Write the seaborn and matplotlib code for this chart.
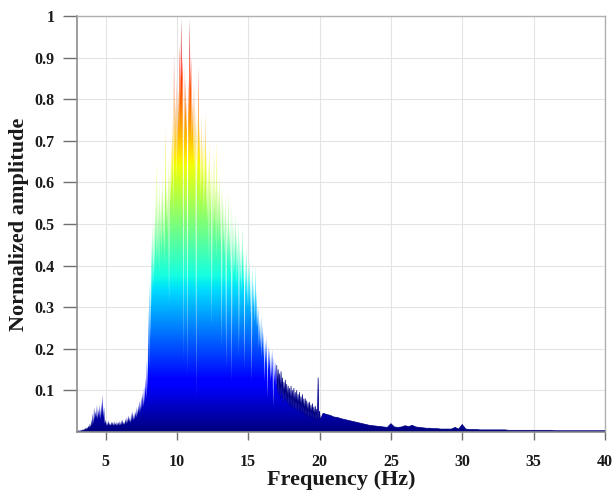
import numpy as np
import pandas as pd
import seaborn as sns
import matplotlib.pyplot as plt
from matplotlib.patches import Polygon

# spectrum: frequency bins 3.0 .. 20.0 Hz (0.1 Hz), peak and trough per bin
freq_main = np.round(np.arange(3.0, 20.05, 0.1), 2)
amp_hi = [
    .003, .004, .004, .005, .006, .008, .010, .012, .015, .020,
    .030, .045, .060, .050, .065, .055, .065, .070, .090, .060,
    .030, .025, .028, .022, .025, .024, .026, .022, .025, .024,
    .026, .028, .030, .025, .032, .036, .040, .035, .045, .050,
    .045, .050, .060, .065, .075, .085, .095, .110, .130, .170,
    .300, .360, .460, .500, .520, .560, .650, .560, .600, .580,
    .620, .580, .730, .600, .660, .620, .700, .750, .910, .800,
    .850, .820, .930, .995, .900, .880, .850, .800, .850, .995,
    .900, .800, .840, .780, .750, .880, .740, .760, .700, .720,
    .770, .680, .660, .700, .640, .620, .680, .600, .700, .580,
    .620, .580, .590, .550, .570, .520, .575, .500, .550, .520,
    .500, .530, .480, .510, .470, .450, .500, .440, .420, .445,
    .400, .420, .380, .400, .360, .400, .340, .300, .270, .280,
    .260, .240, .220, .230, .210, .200, .190, .200, .180, .170,
    .160, .150, .140, .145, .130, .120, .125, .115, .110, .105,
    .110, .100, .105, .095, .100, .090, .095, .085, .090, .080,
    .080, .075, .070, .072, .065, .068, .060, .062, .055, .130,
    .050,
]
amp_lo = [
    .002, .002, .003, .003, .004, .005, .006, .008, .010, .012,
    .015, .020, .030, .035, .030, .035, .030, .040, .035, .020,
    .015, .015, .016, .015, .016, .015, .016, .015, .016, .015,
    .016, .017, .018, .017, .020, .022, .024, .022, .026, .028,
    .030, .035, .040, .045, .050, .055, .060, .070, .080, .100,
    .150, .220, .300, .350, .380, .400, .420, .380, .450, .420,
    .450, .400, .500, .480, .300, .550, .580, .520, .650, .600,
    .660, .720, .800, .850, .170, .700, .720, .130, .750, .820,
    .700, .650, .620, .080, .600, .650, .550, .580, .520, .550,
    .520, .500, .400, .520, .250, .480, .500, .420, .480, .450,
    .450, .200, .450, .420, .150, .420, .400, .380, .120, .380,
    .380, .350, .380, .180, .360, .330, .350, .150, .330, .300,
    .300, .280, .120, .300, .260, .250, .250, .200, .200, .180,
    .180, .120, .160, .080, .150, .120, .130, .060, .120, .110,
    .100, .090, .080, .090, .070, .080, .075, .070, .065, .060,
    .060, .055, .060, .050, .055, .050, .050, .045, .045, .040,
    .040, .038, .035, .036, .032, .033, .030, .030, .028, .030,
    .030,
]

# low-amplitude tail 20.25 .. 40 Hz (0.25 Hz)
freq_tail = np.round(np.arange(20.25, 40.01, 0.25), 2)
amp_tail = [
    .045, .042, .040, .036, .035, .032, .030, .028, .026, .024,
    .022, .020, .018, .016, .015, .014, .013, .012, .011, .020,
    .012, .011, .012, .015, .013, .016, .012, .011, .010, .009,
    .009, .008, .008, .007, .007, .007, .007, .011, .007, .018,
    .007, .006, .006, .006, .005, .005, .005, .005, .005, .005,
    .005, .005, .004, .004, .004, .004, .004, .004, .004, .004,
    .004, .004, .004, .004, .004, .003, .003, .003, .003, .003,
    .003, .003, .003, .003, .003, .003, .003, .003, .003, .003,
]

x_ticks = [5, 10, 15, 20, 25, 30, 35, 40]
y_ticks = [0.1, 0.2, 0.3, 0.4, 0.5, 0.6, 0.7, 0.8, 0.9, 1]
y_tick_labels = ["0.1", "0.2", "0.3", "0.4", "0.5", "0.6", "0.7", "0.8", "0.9", "1"]

# interleave peaks and troughs into one curve
x_main = np.ravel(np.column_stack([freq_main, freq_main + 0.05]))
y_main = np.ravel(np.column_stack([amp_hi, amp_lo]))
df = pd.DataFrame({
    "freq": np.concatenate([x_main, freq_tail]),
    "amp": np.concatenate([y_main, amp_tail]),
})

sns.set_theme(style="whitegrid")
plt.rcParams["font.family"] = ["Liberation Serif", "DejaVu Serif"]
plt.rcParams["font.weight"] = "bold"

fig = plt.figure(figsize=(6.16, 4.92), dpi=100)
ax = fig.add_axes([0.125, 0.122, 0.857, 0.8455])
ax.set_facecolor("white")

# jet gradient clipped to the spectrum outline
verts = [(df.freq.iloc[0], 0)] + list(zip(df.freq, df.amp)) + [(df.freq.iloc[-1], 0)]
outline = Polygon(verts, closed=True, facecolor="none", edgecolor="none")
ax.add_patch(outline)
grad = np.linspace(0, 1, 600).reshape(-1, 1)
im = ax.imshow(grad, extent=[3, 40, 0, 1], origin="lower", cmap="jet",
               vmin=0, vmax=1, aspect="auto", zorder=2)
im.set_clip_path(outline)

# thin navy trace for the low tail
tail = df[df.freq >= 17]
sns.lineplot(data=tail, x="freq", y="amp", ax=ax, color="#00007f", lw=0.5, zorder=3)

ax.set_xlim(3, 40)
ax.set_ylim(0, 1)
ax.set_xticks(x_ticks)
ax.set_xticklabels([str(t) for t in x_ticks])
ax.set_yticks(y_ticks)
ax.set_yticklabels(y_tick_labels)
ax.grid(True, color="#e4e4e4", lw=0.8)
ax.set_axisbelow(True)

for side in ["left", "bottom"]:
    ax.spines[side].set_color("#8c8c8c")
    ax.spines[side].set_linewidth(1.2)
for side in ["top", "right"]:
    ax.spines[side].set_color("#b0b0b0")
    ax.spines[side].set_linewidth(1.0)

ax.tick_params(axis="y", direction="out", length=10, width=1, color="#707070",
               pad=6, labelsize=11.5, left=True, labelcolor="#1a1a1a")
ax.tick_params(axis="x", direction="out", length=6, width=1, color="#707070",
               pad=10, labelsize=11.5, bottom=True, labelcolor="#1a1a1a")
for lbl in ax.get_xticklabels() + ax.get_yticklabels():
    lbl.set_fontweight("bold")

ax.set_xlabel("Frequency (Hz)", fontsize=16, fontweight="bold", labelpad=0, color="#1a1a1a")
ax.set_ylabel("Normalized amplitude", fontsize=16, fontweight="bold", labelpad=4, color="#1a1a1a")

fig.savefig("out.png", dpi=100)
